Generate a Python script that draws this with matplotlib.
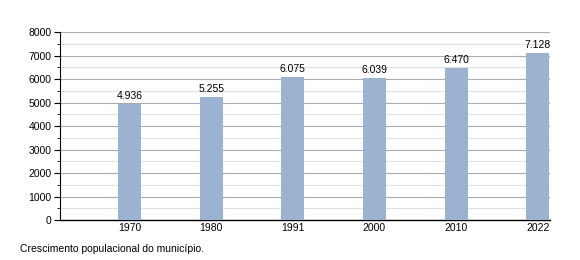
import numpy as np
import matplotlib.pyplot as plt
from matplotlib.ticker import MultipleLocator

plt.rcParams["font.family"] = ["Liberation Sans", "DejaVu Sans"]

years = ["1970", "1980", "1991", "2000", "2010", "2022"]
population = [4936, 5255, 6075, 6039, 6470, 7128]
value_labels = ["4.936", "5.255", "6.075", "6.039", "6.470", "7.128"]

fig = plt.figure(figsize=(5.8, 2.6), dpi=100)
ax = fig.add_axes([0.1034, 0.1538, 0.845, 0.723])

x = np.arange(len(years))
ax.bar(x, population, width=0.28, color="#9bb3d0", zorder=3)
for xi, v, lab in zip(x, population, value_labels):
    ax.text(xi, v + 120, lab, ha="center", va="bottom", fontsize=7.5, zorder=4)

ax.set_xlim(-0.85, 5.15)
ax.set_ylim(0, 8000)
ax.set_xticks(x)
ax.set_xticklabels(years, fontsize=7.5)
ax.tick_params(axis="x", length=0, pad=2)
ax.yaxis.set_major_locator(MultipleLocator(1000))
ax.yaxis.set_minor_locator(MultipleLocator(500))
ax.tick_params(axis="y", which="major", length=4, labelsize=7.5, pad=2)
ax.tick_params(axis="y", which="minor", length=2)
ax.grid(axis="y", which="major", color="#aaaaaa", linewidth=0.8, zorder=0)
ax.grid(axis="y", which="minor", color="#e2e2e2", linewidth=0.8, zorder=0)
for side in ["top", "right"]:
    ax.spines[side].set_visible(False)
ax.spines["left"].set_linewidth(0.8)
ax.spines["bottom"].set_linewidth(1.0)

fig.text(0.034, 0.03, "Crescimento populacional do município.", fontsize=7.5)

fig.savefig("out.png", dpi=100)
